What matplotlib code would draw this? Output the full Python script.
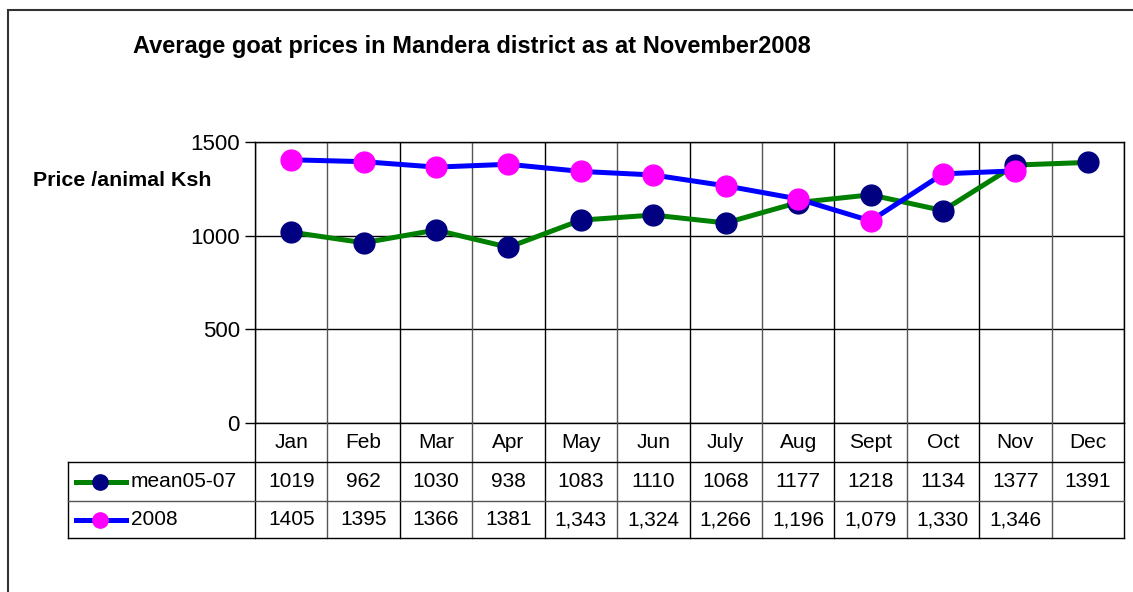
import matplotlib.pyplot as plt
from matplotlib.patches import Rectangle
from matplotlib.lines import Line2D

plt.rcParams["font.family"] = ["Liberation Sans", "DejaVu Sans"]

# ------------------------------------------
# Data
# ------------------------------------------
months = ["Jan", "Feb", "Mar", "Apr", "May", "Jun", "July", "Aug", "Sept", "Oct", "Nov", "Dec"]
mean_05_07 = [1019, 962, 1030, 938, 1083, 1110, 1068, 1177, 1218, 1134, 1377, 1391]
prices_2008 = [1405, 1395, 1366, 1381, 1343, 1324, 1266, 1196, 1079, 1330, 1346, None]
labels_2008 = ["1405", "1395", "1366", "1381", "1,343", "1,324", "1,266", "1,196", "1,079", "1,330", "1,346", ""]
yticks = [0, 500, 1000, 1500]

W, H = 1133, 592
fig = plt.figure(figsize=(W / 100, H / 100), dpi=100)

# pixel helpers for layout
def fx(px):
    return px / W

def fy(py):
    return 1 - py / H

# outer chart border
fig.add_artist(Rectangle((fx(8), fy(640)), fx(1140) - fx(8), fy(10) - fy(640),
                         transform=fig.transFigure, fill=False, edgecolor="#333333", lw=1.5))

left, right, top, bottom = 255, 1124, 142, 423
ax = fig.add_axes([fx(left), fy(bottom), fx(right) - fx(left), fy(top) - fy(bottom)])

n = len(months)
xs = [i + 0.5 for i in range(n)]

# ------------------------------------------
# Lines
# ------------------------------------------
ax.plot(xs, mean_05_07, color="#008000", lw=3.6, marker="o", markersize=15,
        markerfacecolor="#000080", markeredgecolor="#000080", zorder=3)
x08 = [x for x, v in zip(xs, prices_2008) if v is not None]
y08 = [v for v in prices_2008 if v is not None]
ax.plot(x08, y08, color="#0000FF", lw=3.6, marker="o", markersize=15,
        markerfacecolor="#FF00FF", markeredgecolor="#FF00FF", zorder=4)

ax.set_xlim(0, n)
ax.set_ylim(0, 1500)
ax.set_yticks(yticks)
ax.set_yticklabels([str(t) for t in yticks], fontsize=16)
ax.tick_params(axis="y", length=7, width=1, pad=4)
ax.set_xticks([])
for t in yticks:
    ax.axhline(t, color="black", lw=1, zorder=1)
for i in range(n + 1):
    ax.axvline(i, color="#555555" if i % 2 else "black", lw=1, zorder=1)
for s in ax.spines.values():
    s.set_color("black")
    s.set_linewidth(1)

# ------------------------------------------
# Data table below the plot
# ------------------------------------------
cell_w = (right - left) / n
table_left = 68
row_edges = [423, 462, 501, 538]
fs_table = 15

def tline(x0, y0, x1, y1, color="black"):
    fig.add_artist(Line2D([fx(x0), fx(x1)], [fy(y0), fy(y1)], transform=fig.transFigure,
                          color=color, lw=1))

# vertical cell borders
for i in range(n + 1):
    x = left + i * cell_w
    tline(x, row_edges[0], x, row_edges[3], "#555555" if i % 2 else "black")
tline(table_left, row_edges[1], table_left, row_edges[3])
# horizontal borders
tline(left, row_edges[1], right, row_edges[1])
tline(table_left, row_edges[1], left, row_edges[1])
tline(table_left, row_edges[2], right, row_edges[2], "#555555")
tline(table_left, row_edges[3], right, row_edges[3])

for i, m in enumerate(months):
    cx = fx(left + (i + 0.5) * cell_w)
    fig.text(cx, fy((row_edges[0] + row_edges[1]) / 2), m, ha="center", va="center", fontsize=fs_table)
    fig.text(cx, fy((row_edges[1] + row_edges[2]) / 2), str(mean_05_07[i]), ha="center", va="center", fontsize=fs_table)
    fig.text(cx, fy((row_edges[2] + row_edges[3]) / 2), labels_2008[i], ha="center", va="center", fontsize=fs_table)

# legend keys inside the table
for r, (lc, mc, name) in enumerate([("#008000", "#000080", "mean05-07"), ("#0000FF", "#FF00FF", "2008")]):
    yc = fy((row_edges[r + 1] + row_edges[r + 2]) / 2)
    fig.add_artist(Line2D([fx(76), fx(126)], [yc, yc], transform=fig.transFigure, color=lc, lw=3.6))
    fig.add_artist(Line2D([fx(100)], [yc], transform=fig.transFigure, marker="o", markersize=11,
                          markerfacecolor=mc, markeredgecolor=mc))
    fig.text(fx(131), yc, name, ha="left", va="center", fontsize=fs_table)

# ------------------------------------------
# Titles
# ------------------------------------------
fig.text(fx(472), fy(46), "Average goat prices in Mandera district as at November2008",
         ha="center", va="center", fontsize=17, fontweight="bold")
fig.text(fx(33), fy(180), "Price /animal Ksh", ha="left", va="center", fontsize=15.4, fontweight="bold")

fig.savefig("out.png", dpi=100)
